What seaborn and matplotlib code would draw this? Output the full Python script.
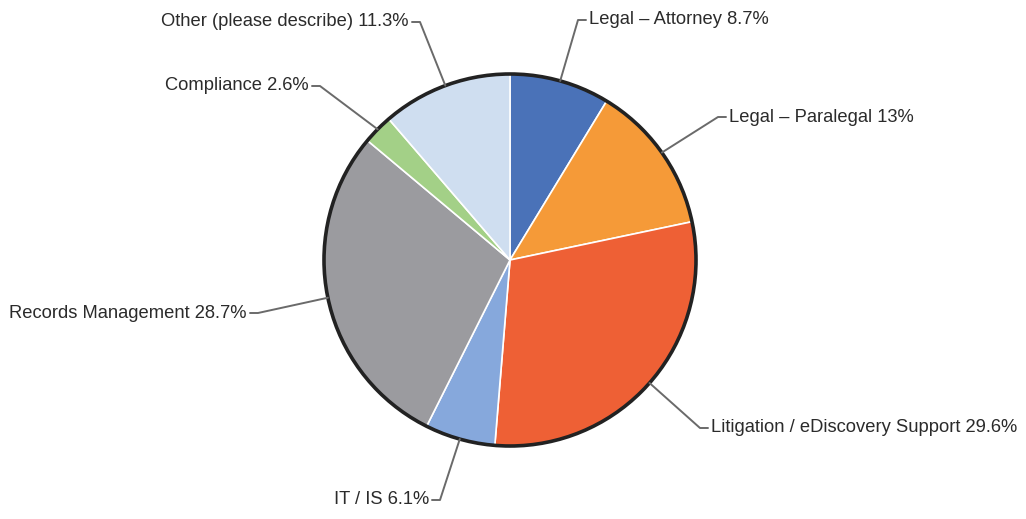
import numpy as np
import seaborn as sns
import matplotlib.pyplot as plt
from matplotlib.patches import Circle

sns.set_theme(style='white')
plt.rcParams['font.family'] = ['Liberation Sans', 'DejaVu Sans']

categorias = ['Legal – Attorney', 'Legal – Paralegal', 'Litigation / eDiscovery Support',
              'IT / IS', 'Records Management', 'Compliance', 'Other (please describe)']
valores = [8.7, 13, 29.6, 6.1, 28.7, 2.6, 11.3]
rotulos = ['8.7%', '13%', '29.6%', '6.1%', '28.7%', '2.6%', '11.3%']
cores = ['#4a72b8', '#f59a38', '#ee6035', '#86a8dc', '#9b9b9f', '#a3d087', '#cfdef0']

# posicao dos cotovelos das linhas guia (pixels na imagem de 1026x519)
cotovelos = [(578, 20), (718, 117), (700, 428), (440, 500), (258, 313), (320, 86), (420, 22)]

cx, cy, raio = 510, 260, 186
W, H = 1026, 519


def px(x, y):
    return (x - cx) / raio, (cy - y) / raio


fig = plt.figure(figsize=(W / 100, H / 100), dpi=100)
ax = fig.add_axes([0, 0, 1, 1])
wedges, _ = ax.pie(valores, colors=cores, startangle=90, counterclock=False,
                   wedgeprops={'edgecolor': 'white', 'linewidth': 1.2})
ax.add_patch(Circle((0, 0), 1.0, fill=False, edgecolor='#222222', linewidth=2.6, zorder=5))

for w, nome, rot, (ex, ey) in zip(wedges, categorias, rotulos, cotovelos):
    ang = np.deg2rad((w.theta1 + w.theta2) / 2)
    x0, y0 = np.cos(ang), np.sin(ang)
    x1, y1 = px(ex, ey)
    direita = ex > cx
    dx = 8 / raio if direita else -8 / raio
    ax.plot([x0, x1, x1 + dx], [y0, y1, y1], color='#6a6a6a', lw=1.4, zorder=6)
    ax.text(x1 + dx * 1.4, y1, f'{nome} {rot}', ha='left' if direita else 'right',
            va='center', fontsize=13.2, color='#2b2b2b')

ax.set_xlim(-cx / raio, (W - cx) / raio)
ax.set_ylim(-(H - cy) / raio, cy / raio)
ax.set_aspect('equal')
ax.axis('off')
fig.savefig('out.png', dpi=100)
